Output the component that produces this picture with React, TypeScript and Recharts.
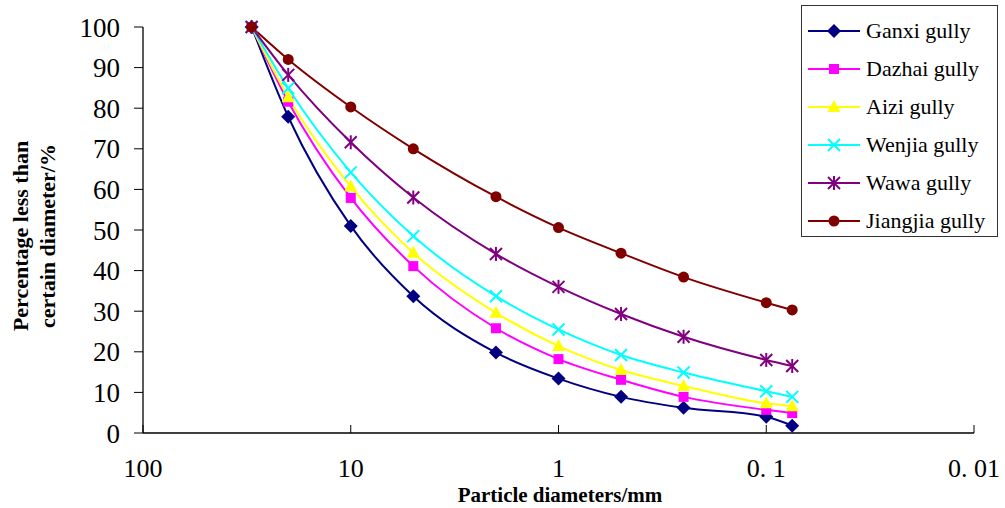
import React from "react";
import { LineChart, Line, XAxis, YAxis, Legend } from "recharts";

const DIAMETERS = [30, 20, 10, 5, 2, 1, 0.5, 0.25, 0.1, 0.075];
const GANXI = [100, 77.9, 51, 33.7, 19.8, 13.4, 8.9, 6.2, 4.0, 1.8];
const DAZHAI = [100, 81.6, 57.9, 41.1, 25.8, 18.2, 13.1, 8.9, 5.7, 4.9];
const AIZI = [100, 82.7, 60.7, 44.4, 29.6, 21.4, 15.5, 11.6, 7.3, 6.6];
const WENJIA = [100, 84.9, 64.2, 48.5, 33.7, 25.5, 19.2, 14.9, 10.3, 8.9];
const WAWA = [100, 88.2, 71.6, 58, 44.1, 36, 29.3, 23.7, 18, 16.5];
const JIANGJIA = [100, 92, 80.3, 70, 58.2, 50.6, 44.3, 38.4, 32.1, 30.3];

const X_TICKS = [100, 10, 1, 0.1, 0.01];
const X_TICK_LABELS: Record<number, string> = { 100: "100", 10: "10", 1: "1", 0.1: "0. 1", 0.01: "0. 01" };
const Y_TICKS = [0, 10, 20, 30, 40, 50, 60, 70, 80, 90, 100];

type Shape = "diamond" | "square" | "triangle" | "x" | "star" | "circle";

const SERIES: { key: string; name: string; color: string; shape: Shape; values: number[] }[] = [
  { key: "ganxi", name: "Ganxi gully", color: "#000080", shape: "diamond", values: GANXI },
  { key: "dazhai", name: "Dazhai gully", color: "#FF00FF", shape: "square", values: DAZHAI },
  { key: "aizi", name: "Aizi gully", color: "#FFFF00", shape: "triangle", values: AIZI },
  { key: "wenjia", name: "Wenjia gully", color: "#00FFFF", shape: "x", values: WENJIA },
  { key: "wawa", name: "Wawa gully", color: "#800080", shape: "star", values: WAWA },
  { key: "jiangjia", name: "Jiangjia gully", color: "#800000", shape: "circle", values: JIANGJIA },
];

const data = DIAMETERS.map((d, i) => {
  const row: Record<string, number> = { d };
  SERIES.forEach((s) => {
    row[s.key] = s.values[i];
  });
  return row;
});

const FONT = '"Liberation Serif", "Times New Roman", serif';

function Marker({ cx, cy, shape, color }: { cx: number; cy: number; shape: Shape; color: string }) {
  switch (shape) {
    case "diamond":
      return <polygon points={`${cx},${cy - 7} ${cx + 7},${cy} ${cx},${cy + 7} ${cx - 7},${cy}`} fill={color} />;
    case "square":
      return <rect x={cx - 5} y={cy - 5} width={10} height={10} fill={color} />;
    case "triangle":
      return <polygon points={`${cx},${cy - 7} ${cx + 6.5},${cy + 5} ${cx - 6.5},${cy + 5}`} fill={color} />;
    case "x":
      return (
        <g stroke={color} strokeWidth={2}>
          <line x1={cx - 6} y1={cy - 6} x2={cx + 6} y2={cy + 6} />
          <line x1={cx - 6} y1={cy + 6} x2={cx + 6} y2={cy - 6} />
        </g>
      );
    case "star":
      return (
        <g stroke={color} strokeWidth={2}>
          <line x1={cx} y1={cy - 7} x2={cx} y2={cy + 7} />
          <line x1={cx - 6} y1={cy - 6} x2={cx + 6} y2={cy + 6} />
          <line x1={cx - 6} y1={cy + 6} x2={cx + 6} y2={cy - 6} />
        </g>
      );
    default:
      return <circle cx={cx} cy={cy} r={5.5} fill={color} />;
  }
}

function XTick({ x, y, payload }: { x?: number; y?: number; payload?: { value: number } }) {
  const px = x ?? 0;
  const py = y ?? 0;
  return (
    <g>
      <line x1={px} y1={py} x2={px} y2={py - 8} stroke="#000" strokeWidth={1} />
      <text x={px} y={py + 44} textAnchor="middle" fontFamily={FONT} fontSize={26} fill="#000">
        {payload ? X_TICK_LABELS[payload.value] : ""}
      </text>
    </g>
  );
}

function LegendBox() {
  return (
    <div
      style={{
        width: 197,
        height: 232,
        boxSizing: "border-box",
        border: "1px solid #333",
        background: "#fff",
        paddingTop: 6,
      }}
    >
      {SERIES.map((s) => (
        <div key={s.key} style={{ height: 38, display: "flex", alignItems: "center" }}>
          <svg width={64} height={20} style={{ flexShrink: 0 }}>
            <line x1={6} y1={10} x2={58} y2={10} stroke={s.color} strokeWidth={2} />
            <Marker cx={32} cy={10} shape={s.shape} color={s.color} />
          </svg>
          <span style={{ fontFamily: FONT, fontSize: 22, color: "#000", whiteSpace: "nowrap" }}>{s.name}</span>
        </div>
      ))}
    </div>
  );
}

export default function App() {
  return (
    <div style={{ position: "absolute", top: 0, left: 0, width: 1005, height: 508, background: "#fff" }}>
      <LineChart width={1005} height={508} data={data} margin={{ top: 27, right: 31, bottom: 0, left: 0 }}>
        <XAxis
          dataKey="d"
          type="number"
          scale="log"
          domain={[0.01, 100]}
          ticks={X_TICKS}
          reversed
          allowDataOverflow
          height={75}
          tickSize={0}
          tickMargin={0}
          tickLine={false}
          axisLine={{ stroke: "#000", strokeWidth: 1.3 }}
          tick={<XTick />}
          interval={0}
          label={{
            content: () => (
              <text x={560} y={502} textAnchor="middle" fontFamily={FONT} fontWeight="bold" fontSize={21} fill="#000">
                Particle diameters/mm
              </text>
            ),
          }}
        />
        <YAxis
          type="number"
          domain={[0, 100]}
          ticks={Y_TICKS}
          interval={0}
          width={143}
          tickSize={9}
          tickMargin={14}
          tickLine={{ stroke: "#000" }}
          axisLine={{ stroke: "#000", strokeWidth: 1.3 }}
          tick={{ fontFamily: FONT, fontSize: 27, fill: "#000" }}
          label={{
            content: () => (
              <g transform="translate(0,236) rotate(-90)">
                <text x={0} y={28} textAnchor="middle" fontFamily={FONT} fontWeight="bold" fontSize={22} fill="#000">
                  Percentage less than
                </text>
                <text x={0} y={55} textAnchor="middle" fontFamily={FONT} fontWeight="bold" fontSize={22} fill="#000">
                  certain diameter/%
                </text>
              </g>
            ),
          }}
        />
        <Legend
          layout="vertical"
          align="center"
          verticalAlign="middle"
          content={() => <LegendBox />}
          wrapperStyle={{ top: 5, left: 801, width: 197, height: 232 }}
        />
        {SERIES.map((s) => (
          <Line
            key={s.key}
            dataKey={s.key}
            name={s.name}
            type="monotone"
            stroke={s.color}
            strokeWidth={2}
            isAnimationActive={false}
            activeDot={false}
            dot={(p: any) => (
              <g key={`${s.key}-${p.index}`}>
                <Marker cx={p.cx} cy={p.cy} shape={s.shape} color={s.color} />
              </g>
            )}
          />
        ))}
      </LineChart>
    </div>
  );
}
